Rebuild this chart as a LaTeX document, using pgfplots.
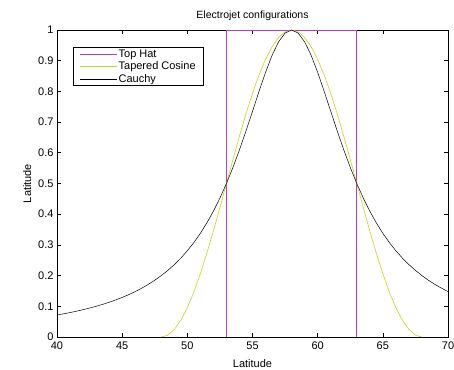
\documentclass[border=0pt]{standalone}
\usepackage{fontspec}
\setmainfont{Liberation Sans}
\usepackage{pgfplots}
\pgfplotsset{compat=1.18}
\definecolor{mag}{RGB}{185,60,185}
\definecolor{yel}{RGB}{205,205,40}
\newcommand{\ff}{\fontsize{11}{13}\selectfont}
\pgfplotsset{legend image code/.code={\draw[#1] (0pt,0pt) -- (37pt,0pt);}}
\begin{document}
\begin{tikzpicture}[x=1pt,y=1pt]
\begin{axis}[
  at={(0,0)}, anchor=south west,
  scale only axis, width=391pt, height=307pt,
  xmin=40, xmax=70, ymin=0, ymax=1,
  xtick={40,45,50,55,60,65,70},
  ytick={0,0.1,0.2,0.3,0.4,0.5,0.6,0.7,0.8,0.9,1},
  /pgf/number format/assume math mode=true,
  every tick label/.append style={font=\ff},
  xticklabel style={yshift=-1.5pt},
  title style={font=\fontsize{10.5}{12}\selectfont},
  label style={font=\ff},
  xlabel style={yshift=-3pt},
  title={Electrojet configurations},
  xlabel={Latitude}, ylabel={Latitude},
  axis line style={line width=0.8pt},
  major tick length=4pt,
  tick style={black, line width=0.6pt},
  legend style={at={(0.041,0.943)}, anchor=north west, draw=black, line width=0.6pt,
    font=\ff, outer sep=0pt, inner xsep=7pt, inner ysep=0.5pt,
    nodes={inner ysep=1.5pt, inner xsep=1pt}},
  legend cell align=left,
]
\addplot[mag, line width=0.6pt] coordinates {(53,0)(53,1)(63,1)(63,0)};
\addlegendentry{Top Hat}
\addplot[yel, line width=0.6pt] coordinates {
(48,0)(48.5,0.00616)(49,0.02447)(49.5,0.05450)(50,0.09549)(50.5,0.14645)(51,0.20611)(51.5,0.27300)(52,0.34549)(52.5,0.42178)(53,0.5)(53.5,0.57822)(54,0.65451)(54.5,0.72700)(55,0.79389)(55.5,0.85355)(56,0.90451)(56.5,0.94550)(57,0.97553)(57.5,0.99384)(58,1)
(58.5,0.99384)(59,0.97553)(59.5,0.94550)(60,0.90451)(60.5,0.85355)(61,0.79389)(61.5,0.72700)(62,0.65451)(62.5,0.57822)(63,0.5)(63.5,0.42178)(64,0.34549)(64.5,0.27300)(65,0.20611)(65.5,0.14645)(66,0.09549)(66.5,0.05450)(67,0.02447)(67.5,0.00616)(68,0)};
\addlegendentry{Tapered Cosine}
\addplot[black, line width=0.5pt] coordinates {
(40,0.0716)(40.5,0.0755)(41,0.0796)(41.5,0.0841)(42,0.0890)(42.5,0.0943)(43,0.1)(43.5,0.1063)(44,0.1131)(44.5,0.1206)(45,0.1289)(45.5,0.1379)(46,0.1479)(46.5,0.1590)(47,0.1712)(47.5,0.1848)(48,0.2)(48.5,0.2169)(49,0.2358)(49.5,0.2571)(50,0.2809)(50.5,0.3077)(51,0.3378)(51.5,0.3717)(52,0.4098)(52.5,0.4525)(53,0.5)(53.5,0.5525)(54,0.6098)(54.5,0.6711)(55,0.7353)(55.5,0.8)(56,0.8621)(56.5,0.9174)(57,0.9615)(57.5,0.9901)(58,1)
(58.5,0.9901)(59,0.9615)(59.5,0.9174)(60,0.8621)(60.5,0.8)(61,0.7353)(61.5,0.6711)(62,0.6098)(62.5,0.5525)(63,0.5)(63.5,0.4525)(64,0.4098)(64.5,0.3717)(65,0.3378)(65.5,0.3077)(66,0.2809)(66.5,0.2571)(67,0.2358)(67.5,0.2169)(68,0.2)(68.5,0.1848)(69,0.1712)(69.5,0.1590)(70,0.1479)};
\addlegendentry{Cauchy}
\end{axis}
\pgfresetboundingbox
\path[use as bounding box] (-57,-32) rectangle (397,337);
\end{tikzpicture}
\end{document}
